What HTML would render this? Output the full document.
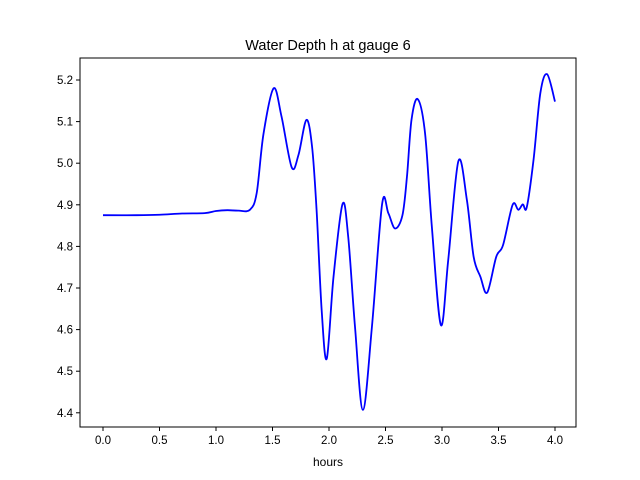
<!DOCTYPE html>
<html><head><meta charset="utf-8"><style>body{margin:0;background:#fff}svg{display:block;font-family:"Liberation Sans","DejaVu Sans",sans-serif}</style></head>
<body>
<svg id="chart" width="640" height="480">
<rect width="640" height="480" fill="#fff"/>
<text x="328" y="50" font-size="14.5" text-anchor="middle">Water Depth h at gauge 6</text>
<g id="plot"></g>
<text x="328" y="466" font-size="12" text-anchor="middle">hours</text>
</svg>
<script>
const hours=[0,0.3,0.5,0.7,0.9,1.0,1.1,1.2,1.3,1.36,1.42,1.51,1.58,1.67,1.73,1.80,1.85,1.89,1.935,1.98,2.04,2.12,2.17,2.23,2.30,2.38,2.47,2.525,2.585,2.65,2.69,2.73,2.785,2.85,2.91,2.99,3.055,3.145,3.22,3.28,3.34,3.40,3.48,3.54,3.625,3.675,3.715,3.75,3.81,3.87,3.93,4.0];
const depth=[4.875,4.875,4.876,4.879,4.880,4.885,4.887,4.886,4.888,4.928,5.07,5.18,5.112,4.99,5.02,5.104,5.04,4.888,4.647,4.53,4.727,4.902,4.823,4.607,4.407,4.607,4.902,4.88,4.843,4.875,4.968,5.104,5.154,5.072,4.848,4.611,4.767,5.005,4.912,4.775,4.727,4.689,4.775,4.803,4.90,4.888,4.901,4.894,5.008,5.168,5.214,5.148];
const xTicks=[0,0.5,1,1.5,2,2.5,3,3.5,4];
const xTickLabels=["0.0","0.5","1.0","1.5","2.0","2.5","3.0","3.5","4.0"];
const yTicks=[4.4,4.5,4.6,4.7,4.8,4.9,5.0,5.1,5.2];
const yTickLabels=["4.4","4.5","4.6","4.7","4.8","4.9","5.0","5.1","5.2"];
const L=80,R=576,T=58,B=427;
const sx=v=>103+v*113, sy=v=>80+(5.2-v)*416;
const NS="http://www.w3.org/2000/svg", g=document.getElementById('plot');
function mk(t,a){const e=document.createElementNS(NS,t);for(const k in a)e.setAttribute(k,a[k]);g.appendChild(e);return e;}
const pts=hours.map((h,i)=>[sx(h),sy(depth[i])]);
let d="M"+pts[0][0]+","+pts[0][1];
for(let i=0;i<pts.length-1;i++){const p0=pts[Math.max(0,i-1)],p1=pts[i],p2=pts[i+1],p3=pts[Math.min(pts.length-1,i+2)];
d+=" C"+(p1[0]+(p2[0]-p0[0])/6)+","+(p1[1]+(p2[1]-p0[1])/6)+" "+(p2[0]-(p3[0]-p1[0])/6)+","+(p2[1]-(p3[1]-p1[1])/6)+" "+p2[0]+","+p2[1];}
const line=mk('path',{d:d,fill:'none',stroke:'#0000ff','stroke-width':1.8});


const fr=mk('rect',{x:L,y:T,width:R-L,height:B-T,fill:'none',stroke:'#000','stroke-width':1});


xTicks.forEach((v,i)=>{const x=sx(v);
const t=mk('line',{x1:x,x2:x,y1:B,y2:B+4,stroke:'#000'});


const l=mk('text',{x:x,y:B+17,'font-size':11.5,'text-anchor':'middle'});l.textContent=xTickLabels[i];

});
yTicks.forEach((v,i)=>{const y=sy(v);
const t=mk('line',{x1:L-4,x2:L,y1:y,y2:y,stroke:'#000'});


const l=mk('text',{x:L-7,y:y+4,'font-size':11.5,'text-anchor':'end'});l.textContent=yTickLabels[i];

});
</script>
</body></html>
